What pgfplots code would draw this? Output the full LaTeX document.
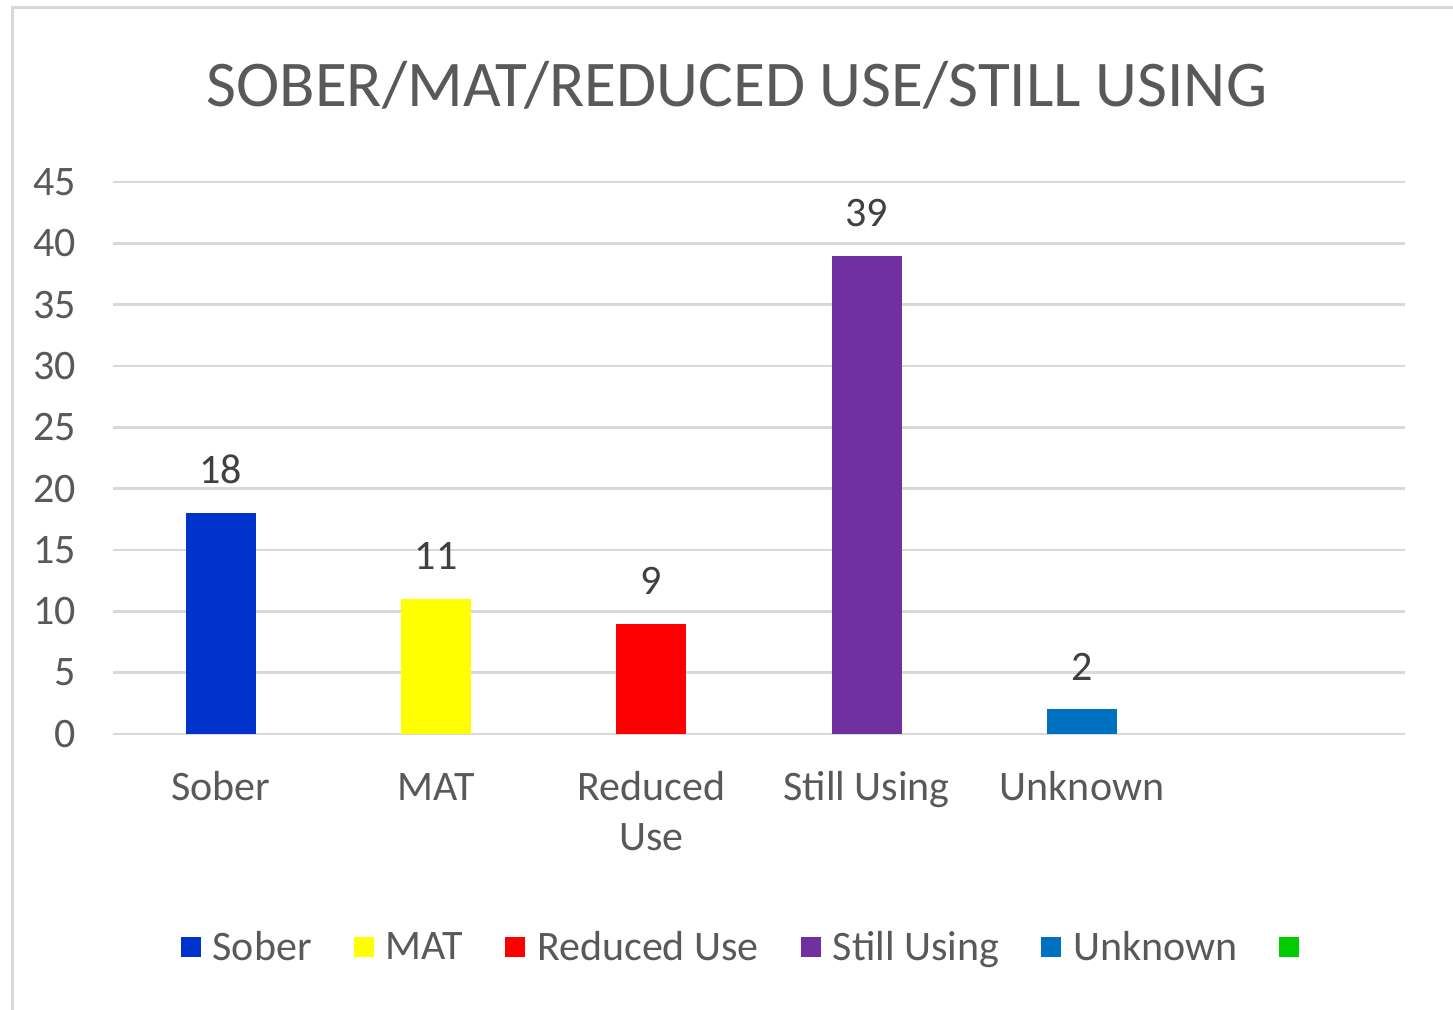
\documentclass[border=0pt]{standalone}
\usepackage{fontspec}
\setmainfont{Carlito}
\usepackage{pgfplots}
\pgfplotsset{compat=1.18}
\definecolor{soberc}{HTML}{0033CC}
\definecolor{matc}{HTML}{FFFF00}
\definecolor{redc}{HTML}{FF0000}
\definecolor{stillc}{HTML}{7030A0}
\definecolor{unkc}{HTML}{0070C0}
\definecolor{greenc}{HTML}{00CC00}
\definecolor{gridc}{HTML}{D9D9D9}
\definecolor{txtc}{HTML}{595959}
\definecolor{lblc}{HTML}{404040}
\begin{document}
\begin{tikzpicture}[x=1pt,y=1pt]
\useasboundingbox (0,0) rectangle (726.5,505);
\fill[white] (0,0) rectangle (726.5,505);
\draw[gridc, line width=1.5pt] (6,-10) -- (6,501) -- (740,501);
\node[txtc, font=\fontsize{32.6}{38}\selectfont] at (368.5,462.5) {SOBER/MAT/REDUCED USE/STILL USING};
\begin{axis}[
  at={(56.5pt,138pt)}, anchor=south west,
  scale only axis, width=646pt, height=276pt,
  xmin=-0.5, xmax=5.5, ymin=0, ymax=45,
  ybar, bar width=0.325, bar shift=0pt,
  axis line style={draw=none}, major tick length=0pt,
  ymajorgrids, grid style={gridc, line width=1.3pt},
  ytick={0,5,...,45},
  xtick={0,1,2,3,4},
  xticklabels={{\strut Sober},{\strut MAT},{\strut Reduced\\Use},{\strut Still Using},{\strut Unknown}},
  /pgf/number format/assume math mode=true,
  yticklabel style={text=txtc, font=\fontsize{21}{25}\selectfont, xshift=-15pt},
  xticklabel style={text=txtc, font=\fontsize{21}{25}\selectfont, align=center, yshift=-12pt},
  nodes near coords style={text=lblc, font=\fontsize{21}{25}\selectfont, yshift=11pt},
  legend columns=6,
  legend style={at={(0.4915,-0.386)}, anchor=center, draw=none, fill=none,
    font=\fontsize{21}{25}\selectfont, text=txtc,
    /tikz/every odd column/.append style={column sep=4pt},
    /tikz/every even column/.append style={column sep=19pt}},
  legend image code/.code={\path[#1,draw=none] (0pt,-5pt) rectangle (10pt,5pt);},
]
\addplot[fill=soberc, draw=none, nodes near coords] coordinates {(0,18)};
\addlegendentry{Sober}
\addplot[fill=matc, draw=none, nodes near coords] coordinates {(1,11)};
\addlegendentry{MAT}
\addplot[fill=redc, draw=none, nodes near coords] coordinates {(2,9)};
\addlegendentry{Reduced Use}
\addplot[fill=stillc, draw=none, nodes near coords] coordinates {(3,39)};
\addlegendentry{Still Using}
\addplot[fill=unkc, draw=none, nodes near coords] coordinates {(4,2)};
\addlegendentry{Unknown}
\addplot[fill=greenc, draw=none] coordinates {(5,-1)};
\addlegendentry{\mbox{}}
\end{axis}
\end{tikzpicture}
\end{document}
